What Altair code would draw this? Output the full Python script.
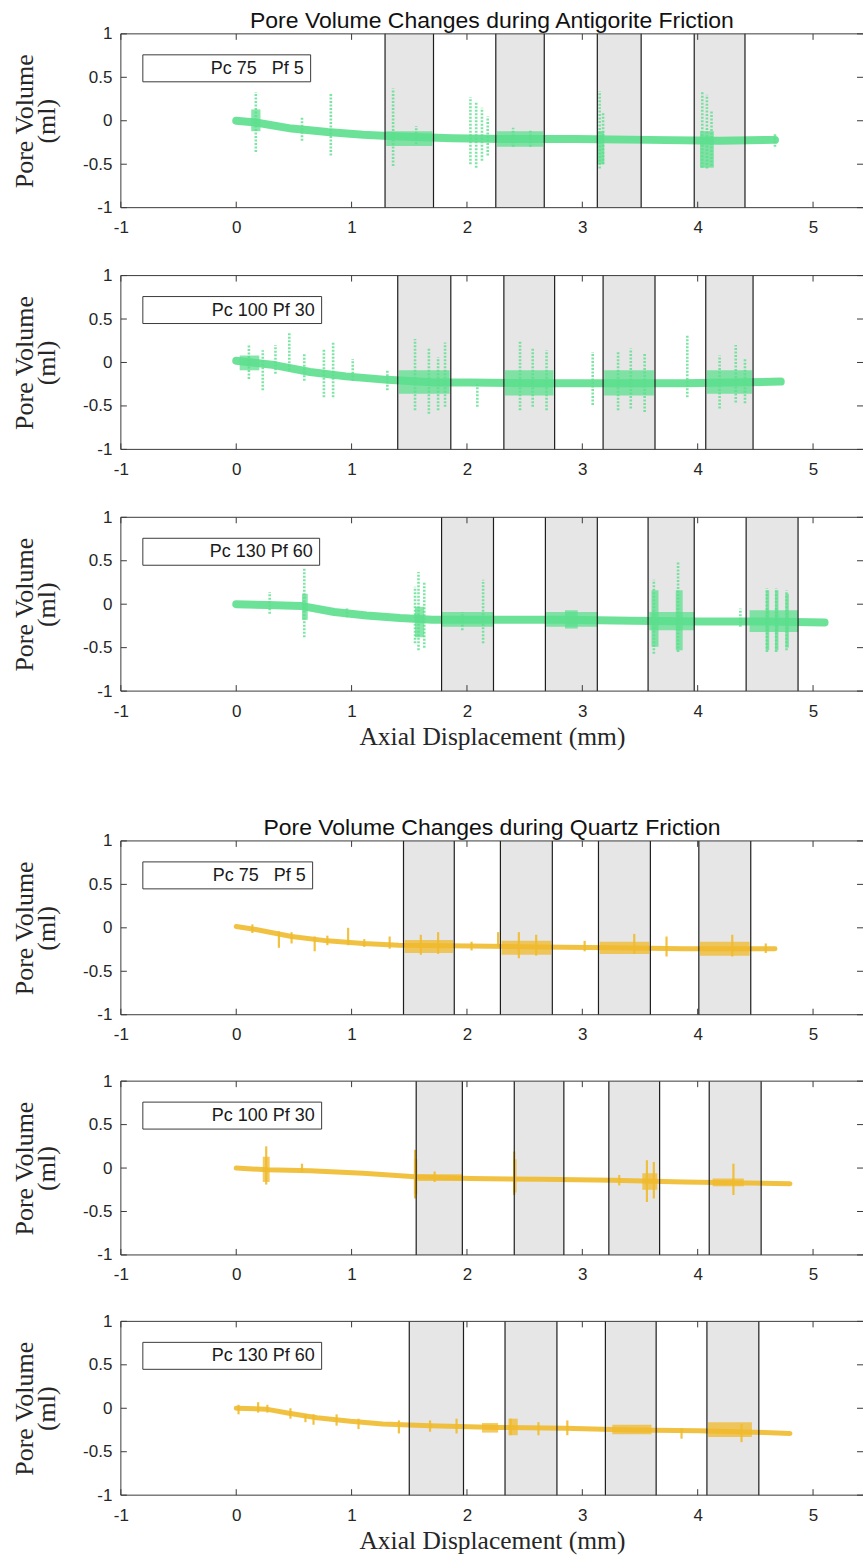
import altair as alt
import pandas as pd

# ---------------- text ----------------
TITLES = ["Pore Volume Changes during Antigorite Friction",
          "Pore Volume Changes during Quartz Friction"]
LEGEND_LABELS = ["Pc 75\u00a0\u00a0\u00a0Pf 5", "Pc 100 Pf 30", "Pc 130 Pf 60"]
X_TITLE = "Axial Displacement (mm)"
Y_TITLE = ["Pore Volume", "(ml)"]
X_TICKS = [-1, 0, 1, 2, 3, 4, 5]
Y_TICKS = [-1, -0.5, 0, 0.5, 1]

# ---------------- Antigorite, Pc 75 Pf 5 ----------------
ANT1_BAND_X0 = [1.29, 2.25, 3.13, 3.97]
ANT1_BAND_X1 = [1.71, 2.67, 3.51, 4.41]
ANT1_TREND_X = [0.00, 0.17, 0.48, 0.79, 1.10, 1.41, 1.87, 2.33, 2.95, 3.57, 4.19, 4.67]
ANT1_TREND_Y = [0.00, -0.02, -0.09, -0.13, -0.16, -0.18, -0.20, -0.21, -0.21, -0.22, -0.23, -0.22]
ANT1_SPIKE_X = [0.17, 0.57, 0.82, 1.36, 1.56, 2.03, 2.08, 2.13, 2.18, 2.40, 2.55, 3.15, 3.18, 4.04, 4.08, 4.12, 4.67]
ANT1_SPIKE_LO = [-0.36, -0.23, -0.40, -0.52, -0.27, -0.50, -0.54, -0.46, -0.40, -0.30, -0.30, -0.55, -0.50, -0.54, -0.55, -0.52, -0.30]
ANT1_SPIKE_HI = [0.33, 0.04, 0.31, 0.37, -0.06, 0.27, 0.22, 0.15, 0.05, -0.08, -0.10, 0.34, 0.10, 0.34, 0.30, 0.12, -0.14]
ANT1_BLOB_X0 = [0.13, 1.30, 2.26, 3.13, 4.02]
ANT1_BLOB_X1 = [0.21, 1.70, 2.66, 3.19, 4.14]
ANT1_BLOB_LO = [-0.12, -0.29, -0.30, -0.50, -0.54]
ANT1_BLOB_HI = [0.13, -0.12, -0.12, -0.12, -0.12]

# ---------------- Antigorite, Pc 100 Pf 30 ----------------
ANT2_BAND_X0 = [1.40, 2.32, 3.18, 4.07]
ANT2_BAND_X1 = [1.86, 2.76, 3.63, 4.48]
ANT2_TREND_X = [0.00, 0.33, 0.64, 0.95, 1.31, 1.72, 2.02, 2.64, 3.26, 3.88, 4.72]
ANT2_TREND_Y = [0.02, -0.03, -0.11, -0.16, -0.20, -0.23, -0.23, -0.24, -0.24, -0.24, -0.22]
ANT2_SPIKE_X = [0.11, 0.23, 0.34, 0.46, 0.59, 0.76, 0.84, 1.01, 1.31, 1.55, 1.67, 1.75, 1.81,
                2.09, 2.46, 2.57, 2.69, 3.09, 3.31, 3.42, 3.54, 3.91, 4.19, 4.33, 4.41]
ANT2_SPIKE_LO = [-0.19, -0.32, -0.13, -0.09, -0.21, -0.40, -0.40, -0.21, -0.32, -0.55, -0.59, -0.55, -0.51,
                 -0.51, -0.55, -0.51, -0.55, -0.49, -0.55, -0.53, -0.57, -0.40, -0.53, -0.46, -0.47]
ANT2_SPIKE_HI = [0.20, 0.14, 0.20, 0.35, 0.10, 0.16, 0.23, 0.04, -0.09, 0.27, 0.16, 0.06, 0.23,
                 -0.24, 0.25, 0.16, 0.14, 0.12, 0.12, 0.16, 0.10, 0.32, 0.08, 0.20, 0.04]
ANT2_BLOB_X0 = [0.03, 1.41, 2.33, 3.19, 4.08]
ANT2_BLOB_X1 = [0.20, 1.85, 2.75, 3.62, 4.47]
ANT2_BLOB_LO = [-0.09, -0.36, -0.38, -0.38, -0.36]
ANT2_BLOB_HI = [0.08, -0.09, -0.09, -0.09, -0.09]

# ---------------- Antigorite, Pc 130 Pf 60 ----------------
ANT3_BAND_X0 = [1.78, 2.68, 3.57, 4.42]
ANT3_BAND_X1 = [2.23, 3.13, 3.97, 4.87]
ANT3_TREND_X = [0.00, 0.27, 0.56, 0.85, 1.13, 1.42, 1.70, 2.27, 2.85, 3.43, 4.01, 4.58, 5.10]
ANT3_TREND_Y = [0.00, -0.01, -0.02, -0.09, -0.13, -0.16, -0.18, -0.18, -0.18, -0.19, -0.20, -0.20, -0.21]
ANT3_SPIKE_X = [0.29, 0.59, 0.96, 1.55, 1.58, 1.63, 1.96, 2.14, 3.62, 3.83, 4.37, 4.60, 4.68, 4.77]
ANT3_SPIKE_LO = [-0.11, -0.38, -0.15, -0.45, -0.53, -0.50, -0.30, -0.45, -0.57, -0.55, -0.26, -0.55, -0.55, -0.53]
ANT3_SPIKE_HI = [0.14, 0.41, -0.05, 0.20, 0.37, 0.25, -0.09, 0.28, 0.28, 0.49, -0.05, 0.18, 0.18, 0.16]
ANT3_BLOB_X0 = [0.57, 1.55, 1.78, 2.68, 2.85, 3.58, 3.60, 3.81, 4.45, 4.59, 4.67, 4.76]
ANT3_BLOB_X1 = [0.62, 1.63, 2.23, 3.13, 2.96, 3.97, 3.66, 3.87, 4.87, 4.62, 4.70, 4.79]
ANT3_BLOB_LO = [-0.18, -0.38, -0.26, -0.26, -0.28, -0.30, -0.49, -0.53, -0.32, -0.53, -0.53, -0.50]
ANT3_BLOB_HI = [0.12, -0.03, -0.09, -0.09, -0.07, -0.09, 0.16, 0.16, -0.07, 0.16, 0.16, 0.12]

# ---------------- Quartz, Pc 75 Pf 5 ----------------
QTZ1_BAND_X0 = [1.45, 2.29, 3.14, 4.01]
QTZ1_BAND_X1 = [1.89, 2.74, 3.59, 4.46]
QTZ1_TREND_X = [0.00, 0.17, 0.48, 0.79, 1.10, 1.41, 2.03, 2.64, 3.26, 3.88, 4.67]
QTZ1_TREND_Y = [0.015, -0.02, -0.10, -0.15, -0.18, -0.20, -0.21, -0.22, -0.23, -0.24, -0.24]
QTZ1_SPIKE_X = [0.14, 0.37, 0.48, 0.68, 0.79, 0.97, 1.11, 1.33, 1.60, 1.75, 2.04, 2.27, 2.45, 2.60,
                3.02, 3.45, 3.73, 4.30, 4.59]
QTZ1_SPIKE_LO = [-0.06, -0.23, -0.18, -0.27, -0.20, -0.20, -0.22, -0.24, -0.31, -0.30, -0.26, -0.22, -0.35, -0.32,
                 -0.27, -0.30, -0.33, -0.33, -0.29]
QTZ1_SPIKE_HI = [0.04, -0.04, -0.05, -0.10, -0.09, 0.00, -0.13, -0.10, -0.08, -0.05, -0.16, -0.05, -0.05, -0.08,
                 -0.15, -0.07, -0.10, -0.08, -0.18]
QTZ1_BLOB_X0 = [1.46, 2.30, 3.15, 4.02]
QTZ1_BLOB_X1 = [1.88, 2.73, 3.58, 4.45]
QTZ1_BLOB_LO = [-0.29, -0.31, -0.30, -0.32]
QTZ1_BLOB_HI = [-0.14, -0.15, -0.16, -0.16]

# ---------------- Quartz, Pc 100 Pf 30 ----------------
QTZ2_BAND_X0 = [1.56, 2.41, 3.23, 4.10]
QTZ2_BAND_X1 = [1.96, 2.84, 3.67, 4.55]
QTZ2_TREND_X = [0.00, 0.27, 0.64, 1.10, 1.55, 2.03, 2.64, 3.26, 3.88, 4.80]
QTZ2_TREND_Y = [0.00, -0.02, -0.03, -0.06, -0.10, -0.12, -0.13, -0.14, -0.16, -0.18]
QTZ2_SPIKE_X = [0.26, 0.57, 1.55, 1.72, 2.41, 3.32, 3.56, 3.62, 4.31]
QTZ2_SPIKE_LO = [-0.19, -0.04, -0.35, -0.16, -0.31, -0.20, -0.39, -0.35, -0.31]
QTZ2_SPIKE_HI = [0.25, 0.05, 0.21, -0.04, 0.19, -0.08, 0.09, 0.07, 0.05]
QTZ2_BLOB_X0 = [0.23, 1.54, 1.57, 2.40, 3.52, 4.13]
QTZ2_BLOB_X1 = [0.29, 1.57, 1.96, 2.43, 3.65, 4.40]
QTZ2_BLOB_LO = [-0.16, -0.30, -0.15, -0.28, -0.25, -0.21]
QTZ2_BLOB_HI = [0.13, 0.10, -0.07, 0.10, -0.06, -0.12]

# ---------------- Quartz, Pc 130 Pf 60 ----------------
QTZ3_BAND_X0 = [1.50, 2.33, 3.20, 4.08]
QTZ3_BAND_X1 = [1.97, 2.78, 3.64, 4.53]
QTZ3_TREND_X = [0.00, 0.26, 0.47, 0.70, 0.99, 1.27, 1.68, 2.27, 2.85, 3.43, 4.01, 4.58, 4.80]
QTZ3_TREND_Y = [0.00, -0.01, -0.06, -0.11, -0.15, -0.18, -0.20, -0.22, -0.23, -0.25, -0.26, -0.28, -0.29]
QTZ3_SPIKE_X = [0.02, 0.19, 0.27, 0.47, 0.60, 0.67, 0.87, 1.06, 1.41, 1.68, 1.91, 2.38, 2.62, 2.87, 3.86, 4.38]
QTZ3_SPIKE_LO = [-0.07, -0.05, -0.05, -0.12, -0.16, -0.19, -0.20, -0.24, -0.29, -0.27, -0.29, -0.31, -0.31, -0.31, -0.35, -0.39]
QTZ3_SPIKE_HI = [0.04, 0.07, 0.04, 0.00, -0.07, -0.07, -0.07, -0.12, -0.14, -0.14, -0.12, -0.12, -0.16, -0.14, -0.23, -0.18]
QTZ3_BLOB_X0 = [2.13, 2.36, 3.26, 4.09]
QTZ3_BLOB_X1 = [2.27, 2.44, 3.60, 4.47]
QTZ3_BLOB_LO = [-0.28, -0.31, -0.30, -0.33]
QTZ3_BLOB_HI = [-0.17, -0.12, -0.19, -0.16]

# ---------------- styling ----------------
W, H = 743, 174
XMIN, XMAX = -1, 5.433
GREEN = "#5CDF8D"
YELLOW = "#F0BA2C"
INK = "#262626"
BOX = "#3a3a3a"
SANS = "Liberation Sans"
SERIF = "Liberation Serif"

XS = alt.Scale(domain=[XMIN, XMAX], nice=False, zero=False)
YS = alt.Scale(domain=[-1, 1], nice=False, zero=False)


def panel(color, legend_label, legend_right, band_x0, band_x1, tx, ty, sx, slo, shi,
          bx0, bx1, blo, bhi, dashed, trend_w, title=None, xtitle=None):
    one = pd.DataFrame({"a": [0]})
    bands = pd.DataFrame({"x0": band_x0, "x1": band_x1})
    trend = pd.DataFrame({"x": tx, "y": ty})
    spikes = pd.DataFrame({"x": sx, "lo": slo, "hi": shi})
    blobs = pd.DataFrame({"x0": bx0, "x1": bx1, "lo": blo, "hi": bhi})
    xt = pd.DataFrame({"x": X_TICKS})
    yt = pd.DataFrame({"y": Y_TICKS})
    leg = pd.DataFrame({"label": [legend_label]})

    xaxis_kw = dict(values=X_TICKS, labelFlush=False, labelOverlap=False, ticks=False, tickSize=0,
                    domain=False, grid=False, labelPadding=12, labelFont=SANS, labelFontSize=17,
                    labelColor=INK, labelExpr="datum.value + ''")
    if xtitle:
        xaxis = alt.Axis(title=xtitle, titleFont=SERIF, titleFontSize=25.5, titleFontWeight="normal",
                         titleColor=INK, titlePadding=5, **xaxis_kw)
    else:
        xaxis = alt.Axis(title=None, **xaxis_kw)
    yaxis = alt.Axis(values=Y_TICKS, ticks=False, tickSize=0, domain=False, grid=False,
                     labelPadding=9, labelFont=SANS, labelFontSize=17, labelColor=INK,
                     labelExpr="datum.value + ''",
                     title=Y_TITLE, titleFont=SERIF, titleFontSize=26, titleFontWeight="normal",
                     titleColor=INK, titleAngle=270, titleX=-96, titleY=H / 2,
                     titleAlign="center", titleBaseline="middle", titleLineHeight=22)

    def X(f):
        return alt.X(f, scale=XS, axis=xaxis)

    def Y(f):
        return alt.Y(f, scale=YS, axis=yaxis)

    band_fill = alt.Chart(bands).mark_rect(color="#E6E6E6").encode(
        x=X("x0:Q"), x2="x1:Q", y=alt.value(0), y2=alt.value(H))
    trend_line = alt.Chart(trend).mark_line(color=color, strokeWidth=trend_w, opacity=0.9,
                                           strokeCap="round", strokeJoin="round").encode(
        x=X("x:Q"), y=Y("y:Q"))
    blob_rect = alt.Chart(blobs).mark_rect(color=color, opacity=0.75).encode(
        x=X("x0:Q"), x2="x1:Q", y=Y("lo:Q"), y2="hi:Q")
    if dashed:
        spike_mark = alt.Chart(spikes).mark_rule(color=color, strokeWidth=2.6, opacity=0.8,
                                                 strokeDash=[2, 1.5])
    else:
        spike_mark = alt.Chart(spikes).mark_rule(color=color, strokeWidth=2.2, opacity=0.9)
    spike_rule = spike_mark.encode(x=X("x:Q"), y=Y("lo:Q"), y2="hi:Q")
    edge0 = alt.Chart(bands).mark_rule(color="#1e1e1e", strokeWidth=1.2).encode(
        x=X("x0:Q"), y=alt.value(0), y2=alt.value(H))
    edge1 = alt.Chart(bands).mark_rule(color="#1e1e1e", strokeWidth=1.2).encode(
        x=X("x1:Q"), y=alt.value(0), y2=alt.value(H))

    box_top = alt.Chart(one).mark_rule(color=BOX, strokeWidth=1).encode(
        x=alt.value(0), x2=alt.value(W), y=alt.value(0))
    box_bot = alt.Chart(one).mark_rule(color=BOX, strokeWidth=1).encode(
        x=alt.value(0), x2=alt.value(W), y=alt.value(H))
    box_left = alt.Chart(one).mark_rule(color=BOX, strokeWidth=1).encode(
        x=alt.value(0), y=alt.value(0), y2=alt.value(H))

    xtick_bot = alt.Chart(xt).mark_rule(color=BOX, strokeWidth=1).encode(
        x=X("x:Q"), y=alt.value(H - 6), y2=alt.value(H))
    xtick_top = alt.Chart(xt).mark_rule(color=BOX, strokeWidth=1).encode(
        x=X("x:Q"), y=alt.value(0), y2=alt.value(6))
    ytick_left = alt.Chart(yt).mark_rule(color=BOX, strokeWidth=1).encode(
        y=Y("y:Q"), x=alt.value(0), x2=alt.value(6))
    ytick_right = alt.Chart(yt).mark_rule(color=BOX, strokeWidth=1).encode(
        y=Y("y:Q"), x=alt.value(W - 6), x2=alt.value(W))

    leg_box = alt.Chart(one).mark_rect(fill="white", stroke=BOX, strokeWidth=1).encode(
        x=alt.value(22), x2=alt.value(legend_right), y=alt.value(21), y2=alt.value(48))
    leg_text = alt.Chart(leg).mark_text(align="right", baseline="middle", font=SANS,
                                        fontSize=18, color="#1a1a1a").encode(
        x=alt.value(legend_right - 7), y=alt.value(35), text="label:N")

    layers = alt.layer(band_fill, trend_line, blob_rect, spike_rule, edge0, edge1,
                       box_top, box_bot, box_left, xtick_bot, xtick_top, ytick_left, ytick_right,
                       leg_box, leg_text)
    if title:
        return layers.properties(width=W, height=H,
                                 title=alt.TitleParams(title, font=SANS, fontSize=23, fontWeight="normal",
                                                       color="#111111", anchor="middle", frame="group",
                                                       offset=-8))
    return layers.properties(width=W, height=H)


a1 = panel(GREEN, LEGEND_LABELS[0], 190, ANT1_BAND_X0, ANT1_BAND_X1, ANT1_TREND_X, ANT1_TREND_Y,
           ANT1_SPIKE_X, ANT1_SPIKE_LO, ANT1_SPIKE_HI, ANT1_BLOB_X0, ANT1_BLOB_X1, ANT1_BLOB_LO, ANT1_BLOB_HI,
           True, 8, title=TITLES[0])
a2 = panel(GREEN, LEGEND_LABELS[1], 201, ANT2_BAND_X0, ANT2_BAND_X1, ANT2_TREND_X, ANT2_TREND_Y,
           ANT2_SPIKE_X, ANT2_SPIKE_LO, ANT2_SPIKE_HI, ANT2_BLOB_X0, ANT2_BLOB_X1, ANT2_BLOB_LO, ANT2_BLOB_HI,
           True, 8)
a3 = panel(GREEN, LEGEND_LABELS[2], 199, ANT3_BAND_X0, ANT3_BAND_X1, ANT3_TREND_X, ANT3_TREND_Y,
           ANT3_SPIKE_X, ANT3_SPIKE_LO, ANT3_SPIKE_HI, ANT3_BLOB_X0, ANT3_BLOB_X1, ANT3_BLOB_LO, ANT3_BLOB_HI,
           True, 8, xtitle=X_TITLE)
q1 = panel(YELLOW, LEGEND_LABELS[0], 192, QTZ1_BAND_X0, QTZ1_BAND_X1, QTZ1_TREND_X, QTZ1_TREND_Y,
           QTZ1_SPIKE_X, QTZ1_SPIKE_LO, QTZ1_SPIKE_HI, QTZ1_BLOB_X0, QTZ1_BLOB_X1, QTZ1_BLOB_LO, QTZ1_BLOB_HI,
           False, 5, title=TITLES[1])
q2 = panel(YELLOW, LEGEND_LABELS[1], 201, QTZ2_BAND_X0, QTZ2_BAND_X1, QTZ2_TREND_X, QTZ2_TREND_Y,
           QTZ2_SPIKE_X, QTZ2_SPIKE_LO, QTZ2_SPIKE_HI, QTZ2_BLOB_X0, QTZ2_BLOB_X1, QTZ2_BLOB_LO, QTZ2_BLOB_HI,
           False, 5)
q3 = panel(YELLOW, LEGEND_LABELS[2], 201, QTZ3_BAND_X0, QTZ3_BAND_X1, QTZ3_TREND_X, QTZ3_TREND_Y,
           QTZ3_SPIKE_X, QTZ3_SPIKE_LO, QTZ3_SPIKE_HI, QTZ3_BLOB_X0, QTZ3_BLOB_X1, QTZ3_BLOB_LO, QTZ3_BLOB_HI,
           False, 5, xtitle=X_TITLE)

g1 = alt.vconcat(a1, a2, a3, spacing=31)
g2 = alt.vconcat(q1, q2, q3, spacing=29.5)
chart = alt.vconcat(g1, g2, spacing=67).properties(
    padding={"left": 12, "top": 9, "right": 0, "bottom": 0}
).configure_view(stroke=None)

chart.save("out.html", embed_options={"renderer": "svg", "actions": False})
